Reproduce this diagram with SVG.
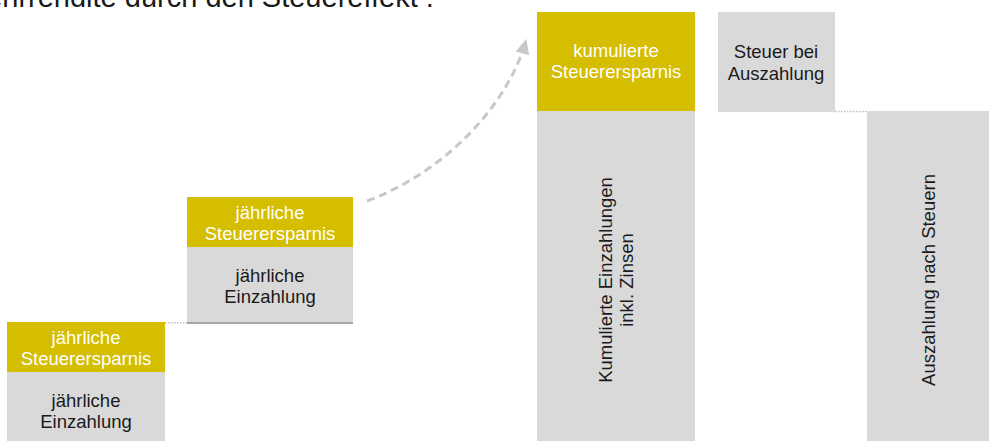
<svg xmlns="http://www.w3.org/2000/svg" width="1007" height="441" viewBox="0 0 1007 441">
<style>
.gold{fill:#d5bd00}
.gray{fill:#d9d9d9}
.t{font-family:"Liberation Sans",Arial,sans-serif;font-size:18.5px;text-anchor:middle}
.w{fill:#ffffff}
.k{fill:#1a1a1a}
.dot{stroke:#bfbfbf;stroke-width:1.5;stroke-dasharray:1.5 1.5;fill:none}
</style>
<defs>
<marker id="ah" markerUnits="userSpaceOnUse" markerWidth="16" markerHeight="16" refX="14" refY="7" orient="auto">
<path d="M0,0 L15,7 L0,14 Z" fill="#c8c8c8"/>
</marker>
</defs>
<text x="-38" y="7" font-family="'Liberation Sans',Arial,sans-serif" font-size="29" fill="#1a1a1a">Mehrrendite durch den Steuereffekt :</text>
<g id="connectors">
<line class="dot" x1="165" y1="322.8" x2="188" y2="322.8"/>
<line class="dot" x1="835" y1="111.5" x2="867" y2="111.5"/>
<path d="M367,201 C450,170 510,100 526,40" fill="none" stroke="#c8c8c8" stroke-width="3" stroke-dasharray="8 5" marker-end="url(#ah)"/>
</g>
<g id="node1">
<rect class="gold" x="7" y="322" width="158" height="50"/>
<rect class="gray" x="7" y="372" width="158" height="69"/>
<text class="t w" x="86" y="344">jährliche</text>
<text class="t w" x="86" y="365">Steuerersparnis</text>
<text class="t k" x="86" y="407">jährliche</text>
<text class="t k" x="86" y="428">Einzahlung</text>
</g>
<g id="node2">
<rect class="gold" x="187" y="197" width="166" height="50"/>
<rect class="gray" x="187" y="247" width="166" height="75"/>
<rect x="187" y="322" width="166" height="2" fill="#a6a6a6"/>
<text class="t w" x="270" y="219">jährliche</text>
<text class="t w" x="270" y="240">Steuerersparnis</text>
<text class="t k" x="270" y="282">jährliche</text>
<text class="t k" x="270" y="303">Einzahlung</text>
</g>
<g id="node3">
<rect class="gold" x="537" y="12" width="158" height="99"/>
<rect class="gray" x="537" y="111" width="158" height="330"/>
<text class="t w" x="616" y="57">kumulierte</text>
<text class="t w" x="616" y="78">Steuerersparnis</text>
<text class="t k" transform="translate(612,280) rotate(-90)"><tspan x="0" y="0">Kumulierte Einzahlungen</tspan><tspan x="0" y="21">inkl. Zinsen</tspan></text>
</g>
<g id="node4">
<rect class="gray" x="718" y="12" width="117" height="100"/>
<text class="t k" x="776" y="58">Steuer bei</text>
<text class="t k" x="776" y="80">Auszahlung</text>
</g>
<g id="node5">
<rect class="gray" x="867" y="111" width="122" height="330"/>
<text class="t k" transform="translate(935,280) rotate(-90)">Auszahlung nach Steuern</text>
</g>
</svg>
